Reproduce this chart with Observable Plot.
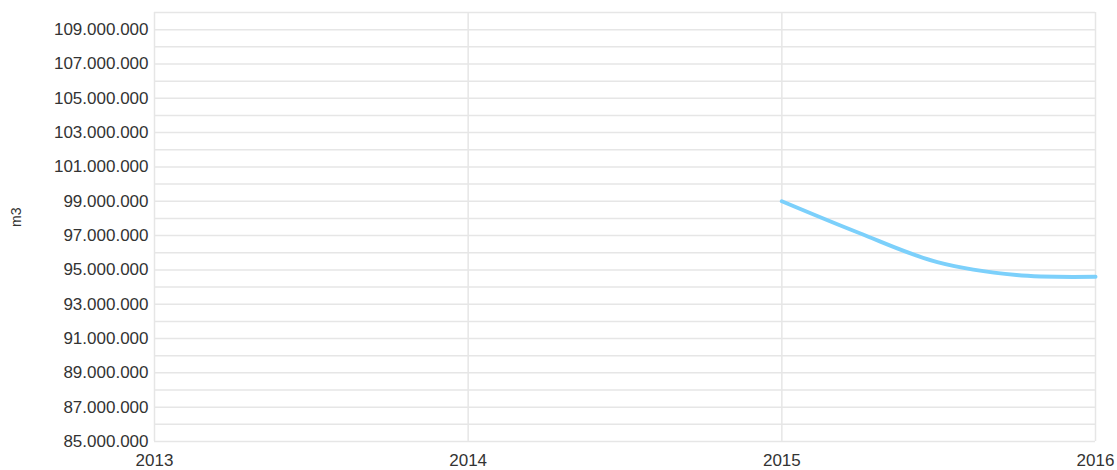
<!DOCTYPE html>
<html>
<head>
<meta charset="utf-8">
<script src="https://cdn.jsdelivr.net/npm/d3@7"></script>
<script src="https://cdn.jsdelivr.net/npm/@observablehq/plot@0.6"></script>
<style>
  html, body { margin: 0; padding: 0; background: #fff; }
  #chart svg { display: block; }
</style>
</head>
<body>
<div id="chart"></div>
<script>
// Data
const dates = ["2015-01-01", "2015-04-01", "2015-07-01", "2015-10-01", "2016-01-01"];
const volumes = [99000000, 97150000, 95450000, 94700000, 94600000];
const yearTicks = ["2013-01-01", "2014-01-01", "2015-01-01", "2016-01-01"];
const yLabelTicks = d3.range(85000000, 109000001, 2000000);
const yGridTicks = d3.range(85000000, 110000001, 1000000);
const yLabel = "m3";

const data = dates.map((d, i) => ({date: new Date(d), value: volumes[i]}));
const xTicks = yearTicks.map(d => new Date(d));
const fmt = v => d3.format(",")(v).replace(/,/g, ".");

const chart = Plot.plot({
  width: 1117,
  height: 470,
  marginLeft: 154,
  marginRight: 22,
  marginTop: 12,
  marginBottom: 29,
  style: {fontFamily: "'Liberation Sans', Arial, sans-serif", fontSize: "17px", color: "#333"},
  x: {type: "utc", domain: [xTicks[0], xTicks[xTicks.length - 1]]},
  y: {domain: [85000000, 110000000]},
  marks: [
    Plot.gridY(yGridTicks, {stroke: "#e6e6e6", strokeOpacity: 1, strokeWidth: 1.5}),
    Plot.gridX(xTicks, {stroke: "#e6e6e6", strokeOpacity: 1, strokeWidth: 1.5}),
    Plot.axisY(yLabelTicks, {tickSize: 0, tickPadding: 6, tickFormat: fmt, label: null, fill: "#333", fontSize: 17}),
    Plot.axisX(xTicks, {tickSize: 0, tickPadding: 12, tickFormat: d => String(d.getUTCFullYear()), label: null, fill: "#333", fontSize: 17}),
    Plot.text([yLabel], {frameAnchor: "left", dx: -138, rotate: -90, fill: "#333", fontSize: 14}),
    Plot.line(data, {x: "date", y: "value", curve: "catmull-rom", stroke: "#7cd0fb", strokeWidth: 4})
  ]
});
document.getElementById("chart").appendChild(chart);
</script>
</body>
</html>
